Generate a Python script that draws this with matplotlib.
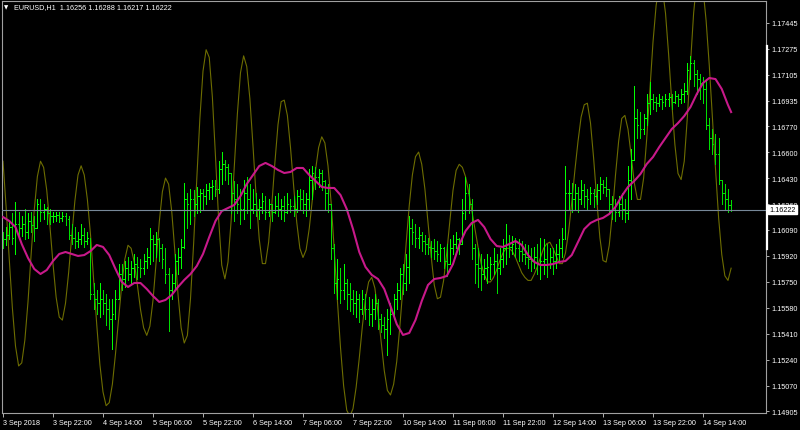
import matplotlib
matplotlib.use("Agg")
import matplotlib.pyplot as plt
import matplotlib.transforms as mtransforms
from matplotlib.collections import LineCollection

plt.rcParams['font.family'] = ['Liberation Sans', 'DejaVu Sans']

# EURUSD H1 bars, 3 Sep 2018 06:00 .. 14 Sep 2018 23:00
highs = [
    1.1608, 1.1611, 1.1615, 1.1620, 1.1627, 1.1621, 1.1618, 1.1623, 1.1620, 1.1621,
    1.1618, 1.1629, 1.1629, 1.1626, 1.1624, 1.1623, 1.1621, 1.1621, 1.1621, 1.1621,
    1.1620, 1.1618, 1.1613, 1.1611, 1.1608, 1.1613, 1.1610, 1.1608, 1.1603, 1.1574,
    1.1570, 1.1574, 1.1570, 1.1567, 1.1564, 1.1564, 1.1570, 1.1587, 1.1587, 1.1589,
    1.1591, 1.1589, 1.1593, 1.1591, 1.1590, 1.1593, 1.1597, 1.1610, 1.1606, 1.1608,
    1.1604, 1.1600, 1.1597, 1.1584, 1.1580, 1.1593, 1.1597, 1.1603, 1.1640, 1.1633,
    1.1636, 1.1635, 1.1637, 1.1636, 1.1636, 1.1639, 1.1640, 1.1642, 1.1642, 1.1654,
    1.1660, 1.1655, 1.1652, 1.1646, 1.1641, 1.1639, 1.1636, 1.1642, 1.1644, 1.1639,
    1.1636, 1.1633, 1.1629, 1.1633, 1.1631, 1.1629, 1.1626, 1.1631, 1.1633, 1.1629,
    1.1631, 1.1633, 1.1629, 1.1631, 1.1635, 1.1636, 1.1635, 1.1633, 1.1649, 1.1651,
    1.1650, 1.1649, 1.1648, 1.1642, 1.1639, 1.1626, 1.1600, 1.1590, 1.1584, 1.1587,
    1.1577, 1.1574, 1.1570, 1.1569, 1.1567, 1.1570, 1.1567, 1.1565, 1.1564, 1.1567,
    1.1564, 1.1554, 1.1552, 1.1557, 1.1561, 1.1567, 1.1574, 1.1584, 1.1587, 1.1593,
    1.1618, 1.1616, 1.1613, 1.1611, 1.1608, 1.1606, 1.1604, 1.1602, 1.1603, 1.1602,
    1.1600, 1.1598, 1.1600, 1.1603, 1.1606, 1.1608, 1.1604, 1.1629, 1.1644, 1.1639,
    1.1629, 1.1600, 1.1597, 1.1593, 1.1590, 1.1593, 1.1591, 1.1597, 1.1593, 1.1597,
    1.1603, 1.1613, 1.1606, 1.1605, 1.1604, 1.1603, 1.1602, 1.1600, 1.1599, 1.1597,
    1.1598, 1.1600, 1.1604, 1.1603, 1.1600, 1.1597, 1.1597, 1.1600, 1.1603, 1.1610,
    1.1651, 1.1642, 1.1640, 1.1639, 1.1637, 1.1642, 1.1639, 1.1636, 1.1637, 1.1636,
    1.1639, 1.1644, 1.1642, 1.1644, 1.1633, 1.1631, 1.1629, 1.1631, 1.1633, 1.1629,
    1.1651, 1.1662, 1.1703, 1.1688, 1.1686, 1.1685, 1.1698, 1.1706, 1.1698, 1.1696,
    1.1698, 1.1697, 1.1698, 1.1699, 1.1698, 1.1700, 1.1698, 1.1701, 1.1705, 1.1718,
    1.1723, 1.1720, 1.1714, 1.1711, 1.1709, 1.1708, 1.1682, 1.1675, 1.1672, 1.1669,
    1.1642, 1.1639, 1.1636, 1.16288,
]
lows = [
    1.1597, 1.1599, 1.1603, 1.1600, 1.1593, 1.1603, 1.1605, 1.1603, 1.1604, 1.1608,
    1.1602, 1.1611, 1.1615, 1.1616, 1.1613, 1.1613, 1.1614, 1.1615, 1.1614, 1.1615,
    1.1612, 1.1603, 1.1600, 1.1597, 1.1598, 1.1600, 1.1598, 1.1600, 1.1564, 1.1557,
    1.1554, 1.1552, 1.1554, 1.1547, 1.1544, 1.1531, 1.1551, 1.1564, 1.1570, 1.1572,
    1.1576, 1.1574, 1.1578, 1.1577, 1.1578, 1.1580, 1.1584, 1.1587, 1.1589, 1.1591,
    1.1589, 1.1584, 1.1574, 1.1543, 1.1564, 1.1570, 1.1580, 1.1584, 1.1597, 1.1610,
    1.1613, 1.1618, 1.1620, 1.1621, 1.1623, 1.1626, 1.1629, 1.1629, 1.1631, 1.1633,
    1.1639, 1.1642, 1.1639, 1.1620, 1.1615, 1.1620, 1.1613, 1.1616, 1.1620, 1.1610,
    1.1620, 1.1618, 1.1616, 1.1620, 1.1616, 1.1618, 1.1615, 1.1620, 1.1618, 1.1616,
    1.1615, 1.1620, 1.1621, 1.1618, 1.1621, 1.1623, 1.1620, 1.1618, 1.1623, 1.1629,
    1.1636, 1.1637, 1.1635, 1.1623, 1.1621, 1.1590, 1.1568, 1.1564, 1.1561, 1.1564,
    1.1557, 1.1556, 1.1554, 1.1552, 1.1549, 1.1554, 1.1551, 1.1547, 1.1546, 1.1551,
    1.1544, 1.1542, 1.1538, 1.1527, 1.1541, 1.1551, 1.1557, 1.1564, 1.1567, 1.1570,
    1.1574, 1.1600, 1.1598, 1.1597, 1.1595, 1.1593, 1.1593, 1.1591, 1.1590, 1.1589,
    1.1589, 1.1584, 1.1579, 1.1587, 1.1593, 1.1597, 1.1593, 1.1600, 1.1616, 1.1620,
    1.1590, 1.1574, 1.1572, 1.1570, 1.1577, 1.1574, 1.1577, 1.1580, 1.1568, 1.1580,
    1.1585, 1.1587, 1.1591, 1.1593, 1.1591, 1.1589, 1.1589, 1.1587, 1.1584, 1.1582,
    1.1584, 1.1580, 1.1577, 1.1580, 1.1578, 1.1584, 1.1580, 1.1584, 1.1589, 1.1591,
    1.1603, 1.1623, 1.1621, 1.1623, 1.1621, 1.1626, 1.1624, 1.1623, 1.1626, 1.1624,
    1.1626, 1.1629, 1.1633, 1.1631, 1.1620, 1.1616, 1.1615, 1.1618, 1.1616, 1.1614,
    1.1616, 1.1629, 1.1662, 1.1669, 1.1669, 1.1672, 1.1678, 1.1685, 1.1688, 1.1687,
    1.1690, 1.1688, 1.1690, 1.1690, 1.1688, 1.1692, 1.1690, 1.1692, 1.1693, 1.1698,
    1.1708, 1.1703, 1.1698, 1.1695, 1.1692, 1.1675, 1.1662, 1.1659, 1.1652, 1.1639,
    1.1626, 1.1623, 1.1621, 1.16217,
]
closes = [
    1.1603, 1.1606, 1.1611, 1.1604, 1.1613, 1.1610, 1.1613, 1.1608, 1.1615, 1.1612,
    1.1610, 1.1626, 1.1621, 1.1623, 1.1620, 1.1618, 1.1618, 1.1619, 1.1617, 1.1618,
    1.1616, 1.1606, 1.1604, 1.1602, 1.1603, 1.1606, 1.1602, 1.1604, 1.1567, 1.1564,
    1.1561, 1.1564, 1.1561, 1.1557, 1.1551, 1.1554, 1.1564, 1.1580, 1.1577, 1.1584,
    1.1580, 1.1584, 1.1587, 1.1585, 1.1584, 1.1589, 1.1591, 1.1603, 1.1600, 1.1603,
    1.1597, 1.1590, 1.1580, 1.1570, 1.1574, 1.1589, 1.1591, 1.1598, 1.1629, 1.1626,
    1.1629, 1.1626, 1.1631, 1.1633, 1.1631, 1.1635, 1.1637, 1.1638, 1.1636, 1.1649,
    1.1652, 1.1650, 1.1646, 1.1633, 1.1629, 1.1626, 1.1623, 1.1633, 1.1629, 1.1623,
    1.1626, 1.1623, 1.1624, 1.1628, 1.1621, 1.1626, 1.1621, 1.1625, 1.1623, 1.1625,
    1.1621, 1.1626, 1.1625, 1.1623, 1.1631, 1.1629, 1.1626, 1.1629, 1.1642, 1.1646,
    1.1644, 1.1646, 1.1641, 1.1633, 1.1626, 1.1597, 1.1574, 1.1577, 1.1570, 1.1574,
    1.1567, 1.1564, 1.1561, 1.1564, 1.1557, 1.1564, 1.1557, 1.1554, 1.1557, 1.1561,
    1.1551, 1.1547, 1.1544, 1.1551, 1.1554, 1.1564, 1.1570, 1.1580, 1.1574, 1.1585,
    1.1610, 1.1608, 1.1604, 1.1606, 1.1602, 1.1600, 1.1598, 1.1597, 1.1595, 1.1593,
    1.1597, 1.1589, 1.1587, 1.1597, 1.1600, 1.1603, 1.1600, 1.1620, 1.1633, 1.1626,
    1.1597, 1.1587, 1.1584, 1.1580, 1.1584, 1.1585, 1.1587, 1.1589, 1.1584, 1.1590,
    1.1597, 1.1600, 1.1598, 1.1600, 1.1597, 1.1595, 1.1593, 1.1591, 1.1590, 1.1589,
    1.1591, 1.1587, 1.1589, 1.1590, 1.1587, 1.1591, 1.1589, 1.1593, 1.1597, 1.1603,
    1.1633, 1.1633, 1.1629, 1.1633, 1.1629, 1.1635, 1.1631, 1.1629, 1.1633, 1.1631,
    1.1635, 1.1639, 1.1637, 1.1636, 1.1626, 1.1623, 1.1621, 1.1626, 1.1623, 1.1620,
    1.1642, 1.1655, 1.1682, 1.1678, 1.1675, 1.1682, 1.1692, 1.1695, 1.1693, 1.1692,
    1.1695, 1.1693, 1.1695, 1.1696, 1.1693, 1.1697, 1.1695, 1.1698, 1.1700, 1.1714,
    1.1718, 1.1711, 1.1708, 1.1705, 1.1701, 1.1678, 1.1669, 1.1665, 1.1659, 1.1642,
    1.1633, 1.1629, 1.16256, 1.16222,
]
first_open = 1.1606

# smooth moving average (magenta), every 2nd bar plus the last one
ma_values = [
    1.16175, 1.16149, 1.16109, 1.15998, 1.15907, 1.15835, 1.15802, 1.15828, 1.15887, 1.15933,
    1.15946, 1.15933, 1.15920, 1.15926, 1.15952, 1.15992, 1.15979, 1.15926, 1.15835, 1.15750,
    1.15717, 1.15743, 1.15743, 1.15704, 1.15658, 1.15619, 1.15632, 1.15665, 1.15717, 1.15763,
    1.15802, 1.15854, 1.15933, 1.16044, 1.16149, 1.16214, 1.16234, 1.16254, 1.16312, 1.16391,
    1.16450, 1.16509, 1.16529, 1.16509, 1.16483, 1.16463, 1.16470, 1.16496, 1.16496, 1.16450,
    1.16411, 1.16372, 1.16365, 1.16365, 1.16319, 1.16227, 1.16096, 1.15946, 1.15848, 1.15796,
    1.15769, 1.15704, 1.15592, 1.15474, 1.15403, 1.15416, 1.15501, 1.15625, 1.15730, 1.15769,
    1.15776, 1.15789, 1.15867, 1.15992, 1.16083, 1.16136, 1.16156, 1.16109, 1.16031, 1.15985,
    1.15979, 1.15998, 1.16018, 1.15992, 1.15926, 1.15881, 1.15861, 1.15861, 1.15867, 1.15881,
    1.15887, 1.15926, 1.16011, 1.16096, 1.16136, 1.16156, 1.16169, 1.16195, 1.16241, 1.16312,
    1.16372, 1.16411, 1.16457, 1.16522, 1.16568, 1.16633, 1.16692, 1.16751, 1.16790, 1.16836,
    1.16895, 1.16980, 1.17052, 1.17085, 1.17078, 1.17013, 1.16908, 1.16862,
]

# cycle indicator (olive), one value per bar
cycle_values = [
    1.1654, 1.1624, 1.1590, 1.1558, 1.1533, 1.1520, 1.1522, 1.1537, 1.1562, 1.1593,
    1.1622, 1.1644, 1.1654, 1.1650, 1.1635, 1.1612, 1.1587, 1.1565, 1.1552, 1.1550,
    1.1561, 1.1581, 1.1605, 1.1628, 1.1645, 1.1651, 1.1645, 1.1629, 1.1606, 1.1576,
    1.1547, 1.1521, 1.1503, 1.1494, 1.1496, 1.1508, 1.1528, 1.1551, 1.1573, 1.1590,
    1.1599, 1.1597, 1.1588, 1.1573, 1.1557, 1.1545, 1.1540, 1.1546, 1.1563, 1.1588,
    1.1614, 1.1634, 1.1643, 1.1639, 1.1621, 1.1595, 1.1567, 1.1545, 1.1535, 1.1540,
    1.1564, 1.1600, 1.1642, 1.1682, 1.1713, 1.1727, 1.1722, 1.1696, 1.1657, 1.1616,
    1.1586, 1.1577, 1.1588, 1.1615, 1.1650, 1.1685, 1.1712, 1.1723, 1.1716, 1.1695,
    1.1664, 1.1631, 1.1603, 1.1587, 1.1587, 1.1601, 1.1625, 1.1653, 1.1678, 1.1693,
    1.1694, 1.1684, 1.1663, 1.1638, 1.1614, 1.1597, 1.1591, 1.1596, 1.1610, 1.1629,
    1.1648, 1.1663, 1.1670, 1.1666, 1.1651, 1.1627, 1.1596, 1.1563, 1.1532, 1.1507,
    1.1491, 1.1487, 1.1492, 1.1506, 1.1525, 1.1546, 1.1564, 1.1575, 1.1578, 1.1571,
    1.1555, 1.1536, 1.1517, 1.1504, 1.1501, 1.1508, 1.1523, 1.1546, 1.1572, 1.1600,
    1.1625, 1.1645, 1.1657, 1.1660, 1.1652, 1.1636, 1.1614, 1.1592, 1.1573, 1.1564,
    1.1565, 1.1576, 1.1594, 1.1615, 1.1635, 1.1648, 1.1652, 1.1650, 1.1644, 1.1634,
    1.1622, 1.1610, 1.1598, 1.1587, 1.1580, 1.1575, 1.1575, 1.1578, 1.1583, 1.1589,
    1.1594, 1.1597, 1.1597, 1.1595, 1.1591, 1.1586, 1.1581, 1.1578, 1.1576, 1.1576,
    1.1580, 1.1585, 1.1591, 1.1597, 1.1600, 1.1601, 1.1597, 1.1592, 1.1587, 1.1587,
    1.1594, 1.1608, 1.1627, 1.1648, 1.1667, 1.1683, 1.1691, 1.1692, 1.1679, 1.1656,
    1.1629, 1.1604, 1.1589, 1.1588, 1.1599, 1.1620, 1.1645, 1.1667, 1.1682, 1.1684,
    1.1675, 1.1658, 1.1640, 1.1629, 1.1629, 1.1643, 1.1669, 1.1700, 1.1732, 1.1756,
    1.1769, 1.1767, 1.1751, 1.1724, 1.1693, 1.1665, 1.1646, 1.1642, 1.1654, 1.1683,
    1.1718, 1.1751, 1.1772, 1.1776, 1.1767, 1.1746, 1.1717, 1.1683, 1.1649, 1.1617,
    1.1593, 1.1579, 1.1576, 1.1584,
]

price_ticks = [1.17445, 1.17275, 1.17105, 1.16935, 1.16770, 1.16600, 1.16430, 1.16260,
               1.16090, 1.15920, 1.15750, 1.15580, 1.15410, 1.15240, 1.15070, 1.14905]
time_labels = ["3 Sep 2018", "3 Sep 22:00", "4 Sep 14:00", "5 Sep 06:00", "5 Sep 22:00",
               "6 Sep 14:00", "7 Sep 06:00", "7 Sep 22:00", "10 Sep 14:00", "11 Sep 06:00",
               "11 Sep 22:00", "12 Sep 14:00", "13 Sep 06:00", "13 Sep 22:00", "14 Sep 14:00"]
bid = 1.16222
header = "EURUSD,H1  1.16256 1.16288 1.16217 1.16222"

W, H = 800, 431
fig = plt.figure(figsize=(W / 100, H / 100), dpi=100, facecolor="black")
ax = fig.add_axes([2 / W, 17 / H, 764 / W, 412 / H])
ax.set_facecolor("black")

n = len(closes)
opens = [first_open] + closes[:-1]

# OHLC bars: thin high-low stick, open tick left, close tick right
segs, cols = [], []
for i in range(n):
    o, c = opens[i], closes[i]
    hi = max(highs[i], o, c)
    lo = min(lows[i], o, c)
    col = "#00ff00" if c >= o else "#00dd00"
    segs += [[(i, lo), (i, hi)], [(i - 0.3, o), (i, o)], [(i, c), (i + 0.3, c)]]
    cols += [col] * 3
ax.add_collection(LineCollection(segs, colors=cols, linewidths=0.55, antialiaseds=False,
                                 capstyle="butt", zorder=2))

ax.plot(range(n), cycle_values, color="#6d6d00", lw=0.8, zorder=1)
ma_x = list(range(0, n, 2)) + [n - 1]
ax.plot(ma_x, ma_values, color="#c8198a", lw=1.5, zorder=3, solid_joinstyle="round")

ax.axhline(bid, color="#778899", lw=0.8, zorder=4)

ax.set_xlim(-0.32, 244.16)
ax.set_ylim(1.14892, 1.17589)

ax.yaxis.tick_right()
ax.set_yticks(price_ticks)
ax.set_yticklabels([f"{p:.5f}" for p in price_ticks])
ax.tick_params(axis="y", direction="out", length=2.5, width=0.7, color="#b0b0b0",
               labelcolor="white", labelsize=5.2, pad=1.5)
ax.set_xticks(range(0, 16 * len(time_labels), 16))
ax.set_xticklabels(time_labels, ha="left")
ax.tick_params(axis="x", direction="out", length=3, width=0.7, color="#b0b0b0",
               labelcolor="white", labelsize=5.2, pad=1.5)

for s in ax.spines.values():
    s.set_color("#a0a0a0")
    s.set_linewidth(0.8)

# bid price label on the scale
trans = mtransforms.blended_transform_factory(ax.transAxes, ax.transData)
ax.text(1.004, bid, "1.16222", transform=trans, fontsize=5.2, color="black", va="center",
        ha="left", bbox=dict(boxstyle="square,pad=0.15", fc="white", ec="white"), zorder=6,
        clip_on=False)
ax.plot([1.0015, 1.0015], [1.15966, 1.17294], transform=trans, color="white", lw=1.6,
        clip_on=False, zorder=5)

fig.text(4 / W, 1 - 8 / H, "▼", fontsize=4, color="white", va="center", family="DejaVu Sans")
fig.text(14 / W, 1 - 8 / H, header, fontsize=5.2, color="white", va="center")

fig.savefig("out.png", dpi=100, facecolor="black")
